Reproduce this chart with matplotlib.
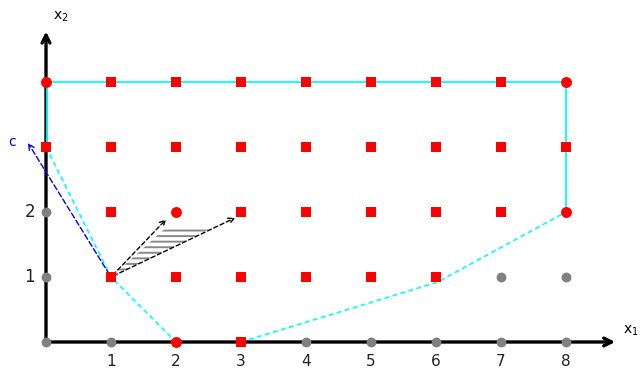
import matplotlib
matplotlib.use("Agg")
import matplotlib.pyplot as plt
from matplotlib.patches import Polygon

plt.rcParams["hatch.linewidth"] = 1.4

# Data
feasible_red = [(x, 4) for x in range(0, 9)] + [(x, 3) for x in range(0, 9)] + \
               [(x, 2) for x in range(1, 9)] + [(x, 1) for x in range(1, 7)] + [(2, 0), (3, 0)]
infeasible_gray = [(0, 2), (0, 1), (7, 1), (8, 1), (0, 0), (1, 0), (4, 0), (5, 0), (6, 0), (7, 0), (8, 0)]
round_red = [(0, 4), (8, 4), (8, 2), (2, 0), (2, 2)]
solid_boundary_x = [0, 0, 8, 8]
solid_boundary_y = [3, 4, 4, 2]
dashed_left_x = [0, 1, 2]
dashed_left_y = [3, 1, 0]
dashed_right_x = [3, 6.02, 8]
dashed_right_y = [0, 0.92, 2]
x_ticks = [1, 2, 3, 4, 5, 6, 7, 8]
y_ticks = [1, 2]
c_vec_tip = (-0.3, 3.1)
origin_pt = (1, 1)
cone_tips = [(1.88, 1.92), (2.95, 1.93)]
hatch_poly = [(1, 1), (1.86, 1.77), (2.58, 1.77)]

fig = plt.figure(figsize=(6.44, 3.70), dpi=100)
ax = fig.add_axes([0, 0, 1, 1])
ax.set_xlim(-46 / 65, 598 / 65)
ax.set_ylim(-28 / 65, 342 / 65)
ax.axis("off")

# axes arrows
ax.annotate("", xy=(8.8, 0), xytext=(0, 0),
            arrowprops=dict(arrowstyle="->", lw=2.4, color="black", mutation_scale=14), zorder=2)
ax.annotate("", xy=(0, 4.82), xytext=(0, 0),
            arrowprops=dict(arrowstyle="->", lw=2.4, color="black", mutation_scale=14), zorder=2)
ax.text(8.88, 0.18, r"x$_1$", fontsize=10, ha="left", va="center")
ax.text(0.1, 5.0, r"x$_2$", fontsize=10, ha="left", va="center")

# boundary
ax.plot([v + 0.02 if v == 0 else v for v in solid_boundary_x], solid_boundary_y, color="cyan", lw=1.3, zorder=3)
ax.plot(dashed_left_x, dashed_left_y, color="cyan", lw=1.2, ls=(0, (3, 2)), zorder=3)
ax.plot(dashed_right_x, dashed_right_y, color="cyan", lw=1.2, ls=(0, (3, 2)), zorder=3)

# objective vector c
ax.annotate("", xy=c_vec_tip, xytext=origin_pt,
            arrowprops=dict(arrowstyle="->", lw=1.0, color="blue", ls=(0, (4, 2)), mutation_scale=10), zorder=4)
ax.text(-0.52, 3.08, "c", color="blue", fontsize=10, ha="center", va="center")

# cone arrows and hatch
hp = Polygon(hatch_poly, closed=True, facecolor="none", edgecolor="#888888", hatch="---", lw=0, zorder=3)
ax.add_patch(hp)
for tip in cone_tips:
    ax.annotate("", xy=tip, xytext=origin_pt,
                arrowprops=dict(arrowstyle="->", lw=1.0, color="black", ls=(0, (3, 2)), mutation_scale=10), zorder=4)

# points
rx = [p[0] for p in feasible_red if p not in round_red]
ry = [p[1] for p in feasible_red if p not in round_red]
ax.scatter(rx, ry, marker="s", s=50, color="red", zorder=5, linewidths=0)
ax.scatter([p[0] for p in round_red], [p[1] for p in round_red], marker="o", s=62, color="red", zorder=5, linewidths=0)
ax.scatter([p[0] for p in infeasible_gray], [p[1] for p in infeasible_gray], marker="o", s=50,
           color="gray", zorder=5, linewidths=0)

# tick labels
for t in x_ticks:
    ax.text(t, -0.3, str(t), fontsize=11, ha="center", va="center", color="#222222")
for t in y_ticks:
    ax.text(-0.25, t, str(t), fontsize=12, ha="center", va="center", color="#222222")

fig.savefig("out.png", dpi=100)
